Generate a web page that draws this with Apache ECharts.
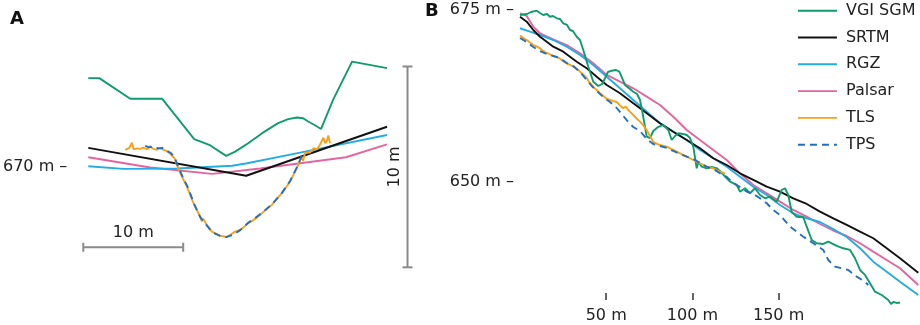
<!DOCTYPE html>
<html>
<head>
<meta charset="utf-8">
<script src="https://cdn.jsdelivr.net/npm/echarts@6/dist/echarts.min.js"></script>
<style>
html,body{margin:0;padding:0;background:#fff;}
#chart{width:920px;height:325px;}
</style>
</head>
<body>
<div id="chart"></div>
<script>
// ---------- Panel A: cross-section (x: m across, y: elevation m) ----------
const A_VGI = [[0.5,674.42],[1.6,674.42],[4.7,673.39],[7.9,673.39],[11.1,671.38],[12.6,671.1],[14.3,670.55],[15.2,670.76],[16.5,671.18],[17.9,671.68],[19.5,672.18],[20.5,672.38],[21.4,672.46],[22.0,672.42],[22.5,672.26],[23.1,672.1],[23.8,671.89],[25.0,673.34],[26.9,675.24],[30.4,674.92]];
const A_SRTM = [[0.5,670.95],[16.3,669.56],[30.4,672.0]];
const A_RGZ = [[0.5,670.03],[4.0,669.9],[9.4,669.92],[14.9,670.06],[16.4,670.18],[21.7,670.71],[30.4,671.59]];
const A_PALSAR = [[0.5,670.48],[6.7,669.97],[12.9,669.65],[17.7,669.92],[26.3,670.48],[30.4,671.12]];
const A_TLS = [[4.2,670.85],[4.6,670.95],[4.87,671.2],[5.03,670.88],[5.4,670.92],[5.7,670.9],[6.0,670.96],[6.37,670.88],[6.7,671.03],[7.0,670.9],[7.37,670.85],[7.6,670.94],[7.87,670.88],[8.3,670.8],[8.7,670.65],[9.13,670.43],[9.37,670.1],[9.87,669.52],[10.37,669.02],[11.03,668.19],[11.7,667.52],[11.85,667.3],[12.0,667.42],[12.37,667.11],[12.87,666.78],[13.7,666.58],[14.3,666.51],[14.7,666.61],[15.2,666.78],[15.7,666.86],[16.53,667.2],[17.2,667.41],[17.87,667.69],[18.87,668.11],[19.87,668.69],[20.7,669.27],[21.37,669.94],[21.87,670.51],[22.0,670.3],[22.2,670.7],[22.37,670.76],[22.7,670.72],[23.03,670.93],[23.4,670.88],[23.7,671.12],[24.03,671.45],[24.2,671.18],[24.37,671.28],[24.53,671.56],[24.7,671.18]];
const A_TPS = [[6.2,671.05],[6.6,670.97],[7.0,671.02],[7.5,670.92],[7.9,670.95],[8.3,670.82],[8.8,670.68],[9.2,670.4],[9.5,670.0],[10.0,669.45],[10.5,668.95],[11.1,668.15],[11.7,667.5],[12.3,667.12],[12.9,666.75],[13.7,666.56],[14.3,666.5],[15.0,666.62],[15.7,666.85],[16.5,667.22],[17.2,667.45],[17.9,667.72],[18.9,668.15],[19.9,668.72],[20.7,669.3],[21.3,669.9],[21.7,670.35],[22.0,670.7]];

// scale bars (data units, metres): [from, to, at]
const SCALE_H = [0, 10, 666];      // horizontal 10 m bar, x from..to at elevation 666
const SCALE_V = [665, 675, 32.45]; // vertical 10 m bar, elevation from..to at x 32.45

// ---------- Panel B: longitudinal profile (x: distance m, y: elevation m) ----------
const B_VGI = [[0,674.27],[4.1,674.42],[6.4,674.71],[9.7,674.9],[11.6,674.56],[13.5,674.27],[15.7,674.42],[17.4,674.02],[19.1,674.13],[21.3,673.79],[23.2,673.69],[25.1,673.06],[27.3,672.82],[29.0,672.09],[30.7,671.94],[32.9,671.11],[34.8,670.63],[36.7,669.18],[39.6,666.74],[42.5,664.56],[45.4,663.93],[47.6,664.22],[49.3,665.06],[51.0,665.97],[53.2,666.16],[55.7,666.26],[57.6,666.02],[59.2,665.1],[60.9,664.08],[63.8,663.5],[65.7,663.1],[67.9,662.77],[69.6,661.9],[71.3,659.71],[73.5,656.55],[75.4,656.36],[77.3,657.38],[80.0,657.96],[83.1,658.26],[86.0,657.53],[88.0,656.07],[89.9,656.65],[91.8,657.05],[94.5,656.95],[96.7,656.8],[98.6,656.36],[100.5,655.1],[102.5,651.95],[103.5,652.91],[105.4,652.18],[108.3,651.95],[111.2,652.14],[114.1,651.95],[116.0,651.56],[118.9,650.73],[121.8,650.0],[125.7,649.52],[127.6,648.54],[130.5,649.04],[133.4,648.31],[136.3,649.04],[139.2,648.06],[142.1,647.58],[145.0,647.82],[148.9,647.09],[151.8,648.79],[153.7,649.04],[155.6,648.06],[157.6,645.59],[160.5,644.9],[164.3,644.82],[166.3,643.45],[169.2,641.51],[172.1,641.03],[175.9,640.93],[178.8,641.27],[183.7,640.64],[187.5,640.3],[191.4,640.06],[194.3,638.85],[197.2,637.14],[200.1,636.42],[203.0,635.21],[205.9,633.98],[209.8,633.5],[213.6,632.78],[215.2,632.19],[216.5,632.48],[218.5,632.34],[220.4,632.41]];
const B_SRTM = [[0,674.02],[3.9,673.3],[7.7,672.09],[11.6,671.11],[15.5,670.38],[19.3,669.66],[25.1,668.93],[29.0,668.2],[32.9,667.47],[38.7,666.51],[44.5,665.29],[50.3,664.08],[58.0,662.87],[65.7,661.42],[73.5,659.96],[81.2,658.5],[88.9,657.28],[96.7,656.07],[104.4,654.86],[112.1,653.41],[119.9,652.43],[127.6,651.22],[135.3,650.25],[143.1,649.27],[150.8,648.54],[158.5,647.58],[166.3,646.75],[174.0,645.63],[181.7,644.67],[189.5,643.7],[197.2,642.72],[204.9,641.76],[212.7,640.3],[220.4,638.85],[231.0,636.75]];
const B_RGZ = [[0,672.34],[5.8,671.84],[11.6,671.36],[19.3,670.63],[27.1,669.66],[34.8,668.45],[42.5,666.99],[50.3,665.29],[58.0,663.6],[65.7,661.9],[73.5,660.19],[81.2,658.5],[88.9,657.28],[96.7,656.07],[104.4,654.62],[112.1,653.41],[119.9,652.18],[127.6,650.73],[135.3,649.27],[143.1,648.06],[150.8,646.61],[158.5,645.4],[166.3,644.67],[174.0,644.13],[181.7,643.11],[189.5,641.95],[197.2,640.3],[204.9,638.35],[212.7,636.9],[220.4,635.44],[231.0,633.5]];
const B_PALSAR = [[0,674.52],[3.9,674.13],[7.7,672.57],[11.6,671.61],[19.3,670.73],[27.1,669.9],[34.8,668.7],[42.5,667.24],[50.3,665.54],[58.0,664.56],[65.7,663.6],[73.5,662.38],[81.2,661.17],[88.9,659.46],[96.7,657.53],[104.4,656.07],[112.1,654.62],[119.9,653.16],[127.6,651.22],[135.3,649.52],[143.1,648.31],[150.8,647.09],[158.5,645.88],[166.3,644.9],[174.0,643.84],[181.7,642.89],[189.5,642.09],[197.2,641.03],[204.9,639.81],[212.7,638.6],[220.4,637.39],[231.0,634.96]];
const B_TLS = [[0,671.29],[2.0,670.9],[3.9,670.63],[5.8,670.25],[7.7,669.9],[9.7,669.7],[11.6,669.42],[13.5,669.0],[15.5,668.74],[17.4,668.55],[19.3,668.3],[21.3,668.15],[23.2,667.94],[25.1,667.5],[27.1,667.24],[29.0,667.0],[30.9,666.74],[32.9,666.45],[34.8,666.02],[36.7,665.6],[38.7,665.1],[40.1,664.5],[41.6,664.08],[43.0,663.7],[44.5,663.35],[46.4,662.9],[48.3,662.48],[50.2,662.1],[52.2,661.9],[54.1,661.75],[56.1,661.6],[58.0,661.1],[59.9,660.69],[61.3,660.95],[62.8,660.44],[64.2,660.1],[65.7,659.71],[67.6,659.2],[69.6,658.74],[71.5,658.2],[73.5,657.53],[75.4,656.6],[77.3,655.82],[79.2,655.55],[81.2,655.34],[85.1,655.09],[88.9,654.62],[92.8,654.13],[96.7,653.64],[100.5,653.16],[104.4,652.68],[108.3,652.18],[112.1,651.95],[116.0,651.46],[118.9,651.22]];
const B_TPS = [[0,670.92],[3.9,670.34],[7.7,669.61],[11.6,669.03],[15.5,668.59],[19.3,668.3],[23.2,668.01],[27.1,667.28],[30.9,666.84],[34.8,665.97],[38.7,664.81],[41.6,663.93],[44.5,663.2],[48.3,662.33],[52.2,661.6],[56.1,660.73],[59.9,659.57],[62.8,658.69],[65.7,657.96],[69.6,657.38],[73.5,656.22],[77.3,655.49],[81.2,655.2],[85.1,654.91],[88.9,654.47],[92.8,654.03],[96.7,653.64],[100.5,653.31],[104.4,652.72],[108.3,652.18],[112.1,651.85],[116.0,651.22],[119.9,650.69],[123.7,649.81],[127.6,649.23],[131.5,648.55],[135.3,648.21],[139.2,647.58],[143.1,646.86],[146.9,645.88],[150.8,645.15],[156.6,643.45],[164.3,641.99],[170.1,641.03],[175.9,640.06],[178.8,638.6],[182.7,637.62],[186.6,637.39],[190.4,637.14],[195.3,636.17],[200.1,635.44],[202.0,634.96]];

const NAMES = ['VGI SGM','SRTM','RGZ','Palsar','TLS','TPS'];
const COLORS = ['#0e9c6c','#111111','#23ade4','#e3659f','#f8a11c','#2270bd'];
const B_TICKS_X = [50,100,150];
const B_TICKS_Y = [650,675];
const A_TICKS_Y = [670];

const FONT = 'DejaVu Sans';
const chart = echarts.init(document.getElementById('chart'), null, {renderer:'canvas'});

function lineSeries(name, data, idx, color, dashed){
  return {
    name: name, type:'line', data: data, xAxisIndex: idx, yAxisIndex: idx,
    showSymbol:false, symbol:'none', clip:false, animation:false,
    lineStyle:{color: color, width:1.9, type: dashed ? [7,5] : 'solid'},
    itemStyle:{color: color}, z: dashed ? 4 : 3
  };
}

const GREY = '#8a8a8a';
function scaleBarH(params, api){
  const p1 = api.coord([api.value(0), api.value(2)]);
  const p2 = api.coord([api.value(1), api.value(2)]);
  const st = {stroke:GREY, lineWidth:2};
  return {type:'group', children:[
    {type:'line', shape:{x1:p1[0],y1:p1[1],x2:p2[0],y2:p2[1]}, style:st},
    {type:'line', shape:{x1:p1[0],y1:p1[1]-4.5,x2:p1[0],y2:p1[1]+4.5}, style:st},
    {type:'line', shape:{x1:p2[0],y1:p2[1]-4.5,x2:p2[0],y2:p2[1]+4.5}, style:st},
    {type:'text', x:(p1[0]+p2[0])/2, y:p1[1]-14, style:{text:(api.value(1)-api.value(0))+' m', fontSize:16, fontFamily:FONT, fill:'#222', align:'center', verticalAlign:'middle'}}
  ]};
}
function scaleBarV(params, api){
  const p1 = api.coord([api.value(2), api.value(1)]);
  const p2 = api.coord([api.value(2), api.value(0)]);
  const st = {stroke:GREY, lineWidth:2};
  return {type:'group', children:[
    {type:'line', shape:{x1:p1[0],y1:p1[1],x2:p2[0],y2:p2[1]}, style:st},
    {type:'line', shape:{x1:p1[0]-5,y1:p1[1],x2:p1[0]+5,y2:p1[1]}, style:st},
    {type:'line', shape:{x1:p2[0]-5,y1:p2[1],x2:p2[0]+5,y2:p2[1]}, style:st},
    {type:'text', x:p1[0]-13, y:(p1[1]+p2[1])/2, rotation:Math.PI/2, style:{text:(api.value(1)-api.value(0))+' m', fontSize:16, fontFamily:FONT, fill:'#222', align:'center', verticalAlign:'middle'}}
  ]};
}

const A_DATA = [A_VGI, A_SRTM, A_RGZ, A_PALSAR, A_TLS, A_TPS];
const B_DATA = [B_VGI, B_SRTM, B_RGZ, B_PALSAR, B_TLS, B_TPS];
const series = [];
// draw order: pink, blue, black, green, orange, dashed on top
const ORDER = [3,2,1,0,4,5];
ORDER.forEach(i => series.push(lineSeries(NAMES[i], A_DATA[i], 0, COLORS[i], i===5)));
ORDER.forEach(i => series.push(lineSeries(NAMES[i], B_DATA[i], 1, COLORS[i], i===5)));
series.push({type:'custom', name:'scaleH', xAxisIndex:0, yAxisIndex:0, data:[SCALE_H], renderItem:scaleBarH, clip:false, silent:true, animation:false});
series.push({type:'custom', name:'scaleV', xAxisIndex:0, yAxisIndex:0, data:[SCALE_V], renderItem:scaleBarV, clip:false, silent:true, animation:false});

const labelStyle = {fontSize:16, color:'#222', fontFamily:FONT};

chart.setOption({
  animation:false,
  backgroundColor:'#fff',
  textStyle:{fontFamily:FONT},
  title:[
    {text:'A', left:10, top:10, padding:0, textStyle:{fontSize:18, fontWeight:'bold', color:'#111', fontFamily:FONT}},
    {text:'B', left:425, top:2, padding:0, textStyle:{fontSize:18, fontWeight:'bold', color:'#111', fontFamily:FONT}}
  ],
  legend:{
    data: NAMES, orient:'vertical', left:797, top:0.7, padding:0,
    itemWidth:39, itemHeight:20, itemGap:6.8,
    itemStyle:{opacity:0, borderWidth:0},
    lineStyle:{width:1.9},
    textStyle:{fontSize:16, color:'#222', fontFamily:FONT, lineHeight:20, padding:[0,0,0,4]}
  },
  grid:[
    {left:83, top:46.4, width:330, height:241},
    {left:520, top:3.13, width:400, height:289.8}
  ],
  xAxis:[
    {gridIndex:0, type:'value', min:0, max:33, show:false},
    {gridIndex:1, type:'value', min:0, max:232,
      axisLine:{show:false}, splitLine:{show:false},
      axisTick:{show:true, customValues:B_TICKS_X, length:7, lineStyle:{color:'#333', width:1.5}},
      axisLabel:Object.assign({customValues:B_TICKS_X, formatter:'{value} m', margin:15}, labelStyle)}
  ],
  yAxis:[
    {gridIndex:0, type:'value', min:664, max:676,
      axisLine:{show:false}, axisTick:{show:false}, splitLine:{show:false},
      axisLabel:Object.assign({customValues:A_TICKS_Y, formatter:'{value} m –', margin:16}, labelStyle)},
    {gridIndex:1, type:'value', min:633.8, max:676,
      axisLine:{show:false}, axisTick:{show:false}, splitLine:{show:false},
      axisLabel:Object.assign({customValues:B_TICKS_Y, formatter:'{value} m –', margin:6}, labelStyle)}
  ],
  series: series
});
</script>
</body>
</html>
